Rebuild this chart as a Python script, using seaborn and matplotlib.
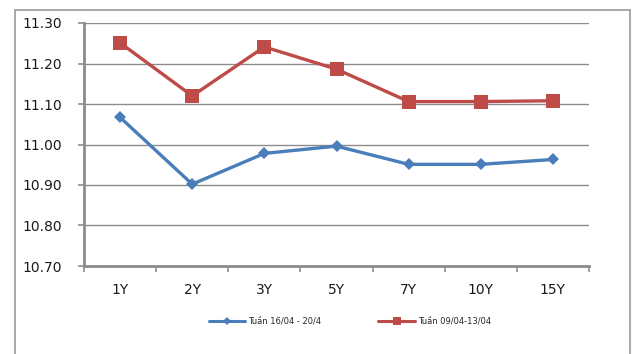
import matplotlib
matplotlib.use("Agg")
import matplotlib.pyplot as plt
from matplotlib.lines import Line2D
from matplotlib.ticker import FixedLocator
import pandas as pd
import seaborn as sns

# Yield curve data by tenor
tenors = ["1Y", "2Y", "3Y", "5Y", "7Y", "10Y", "15Y"]
week_current = [11.067, 10.902, 10.978, 10.996, 10.951, 10.951, 10.963]
week_previous = [11.251, 11.120, 11.241, 11.186, 11.106, 11.106, 11.108]
series_names = ["Tuần 16/04 - 20/4", "Tuần 09/04-13/04"]
y_ticks = [10.70, 10.80, 10.90, 11.00, 11.10, 11.20, 11.30]

blue = "#4A7EBB"
red = "#BE4B48"
grid_col = "#8C8C8C"

df = pd.DataFrame({
    "tenor": tenors * 2,
    "pos": list(range(len(tenors))) * 2,
    "yield": week_current + week_previous,
    "series": [series_names[0]] * len(tenors) + [series_names[1]] * len(tenors),
})

sns.set_theme(style="white")
plt.rcParams["font.family"] = ["DejaVu Sans"]

fig = plt.figure(figsize=(6.36, 3.54), dpi=100)
ax = fig.add_axes([84 / 636, 1 - 266 / 354, (589 - 84) / 636, (266 - 23) / 354])

sns.lineplot(
    data=df, x="pos", y="yield", hue="series", style="series",
    palette={series_names[0]: blue, series_names[1]: red},
    markers={series_names[0]: "D", series_names[1]: "s"},
    dashes=False, sort=False, linewidth=2.4, markersize=8,
    markeredgewidth=0, legend=False, ax=ax, zorder=3,
)

# squares slightly larger than diamonds
for line in ax.get_lines():
    if line.get_marker() == "s":
        line.set_markersize(9.5)
    elif line.get_marker() == "D":
        line.set_markersize(6.5)

ax.set_xlim(-0.5, len(tenors) - 0.5)
ax.set_ylim(10.70, 11.30)
ax.set_xlabel("")
ax.set_ylabel("")

ax.set_xticks(range(len(tenors)))
ax.set_xticklabels(tenors)
ax.xaxis.set_minor_locator(FixedLocator([i - 0.5 for i in range(len(tenors) + 1)]))
ax.set_yticks(y_ticks)
ax.set_yticklabels([f"{v:.2f}" for v in y_ticks])

ax.tick_params(axis="x", which="major", length=0, pad=12, labelsize=10, labelcolor="#1a1a1a")
ax.tick_params(axis="x", which="minor", length=4, width=1.2, color=grid_col, direction="out", bottom=True)
ax.tick_params(axis="y", which="major", length=4, width=1.2, color=grid_col, direction="out",
               left=True, pad=12, labelsize=10, labelcolor="#1a1a1a")

ax.grid(axis="y", color=grid_col, linewidth=1.0)
ax.grid(axis="x", visible=False)
ax.set_axisbelow(True)
for side in ["top", "right"]:
    ax.spines[side].set_visible(False)
for side in ["left", "bottom"]:
    ax.spines[side].set_color(grid_col)
    ax.spines[side].set_linewidth(2.0)

# outer chart frame
frame_col = "#9A9A9A"
x0, x1, y0 = 15 / 636, 630 / 636, 1 - 10 / 354
fig.add_artist(Line2D([x0, x1], [y0, y0], transform=fig.transFigure, color=frame_col, lw=1.2))
fig.add_artist(Line2D([x0, x0], [y0, -0.01], transform=fig.transFigure, color=frame_col, lw=1.2))
fig.add_artist(Line2D([x1, x1], [y0, -0.01], transform=fig.transFigure, color=frame_col, lw=1.2))

handles = [
    Line2D([], [], color=blue, lw=2.2, marker="D", markersize=4, markeredgewidth=0),
    Line2D([], [], color=red, lw=2.2, marker="s", markersize=5.5, markeredgewidth=0),
]
fig.legend(handles, series_names, loc="center", bbox_to_anchor=(350 / 636, 1 - 321 / 354),
           ncol=2, frameon=False, fontsize=6, handlelength=4.4, handletextpad=0.4,
           columnspacing=6.8)

fig.savefig("out.png", dpi=100)
